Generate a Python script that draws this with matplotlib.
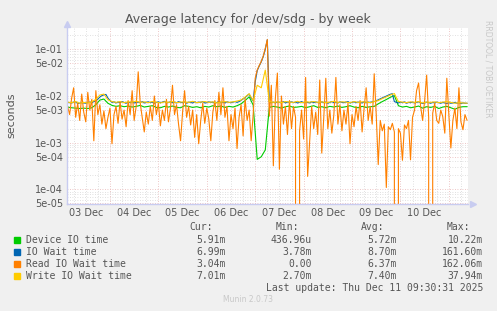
import numpy as np
import matplotlib
matplotlib.use('Agg')
import matplotlib.pyplot as plt

W, H = 497, 311

# time axis: hours since 03 Dec 00:00
t_start, t_end = 2.7, 201.5
day_labels = ['03 Dec', '04 Dec', '05 Dec', '06 Dec', '07 Dec', '08 Dec', '09 Dec', '10 Dec']
day_centers = [12, 36, 60, 84, 108, 132, 156, 180]

ytick_vals = [1e-1, 5e-2, 1e-2, 5e-3, 1e-3, 5e-4, 1e-4, 5e-5]
ytick_labels = ['1e-01', '5e-02', '1e-02', '5e-03', '1e-03', '5e-04', '1e-04', '5e-05']

# Read IO wait time (ms), one value per hour from 03:00 on 03 Dec
read_ms = [
    6.0, 4.0, 9.0, 15.0, 3.5, 7.0, 3.0, 11.0, 4.5, 2.8,
    12.0, 5.0, 8.5, 1.1, 13.0, 4.0, 6.5, 2.5, 4.8, 2.0,
    3.5, 5.5, 0.95, 4.0, 6.0, 2.6, 7.5, 3.2, 5.0, 2.2,
    8.0, 4.0, 13.0, 3.0, 6.0, 33.0, 7.0, 3.5, 1.7, 4.5,
    2.5, 6.0, 3.0, 10.0, 4.0, 7.0, 2.3, 5.0, 3.0, 8.5,
    2.8, 5.5, 17.0, 4.0, 6.5, 2.5, 1.1, 4.5, 13.0, 3.5,
    6.0, 2.4, 5.0, 1.3, 4.0, 0.95, 3.0, 7.0, 2.6, 5.5,
    3.2, 1.1, 4.5, 8.0, 3.0, 12.0, 4.0, 15.0, 3.5, 6.0,
    1.1, 4.0, 2.0, 5.5, 0.75, 3.5, 6.5, 1.4, 8.8, 3.0,
    5.0, 1.1, 4.0, 24.0, 36.0, 45.0, 55.0, 72.0, 105.0, 162.0,
    3.7, 17.0, 0.32, 9.0, 31.0, 0.27, 10.0, 2.5, 6.0, 1.5,
    8.0, 2.0, 6.0, 3.5, 0.0, 1.8, 5.0, 1.2, 25.0, 0.19,
    1.1, 6.0, 2.0, 4.5, 1.5, 22.0, 0.6, 3.5, 24.0, 2.0,
    5.0, 1.6, 4.0, 25.0, 2.5, 6.5, 1.8, 5.0, 2.5, 7.0,
    0.95, 4.0, 2.2, 6.0, 3.0, 8.0, 1.7, 5.5, 15.0, 3.0,
    6.0, 2.5, 30.0, 4.0, 0.34, 3.0, 1.8, 2.5, 0.11, 2.2,
    1.9, 2.6, 1.7, 0.0, 2.0, 1.6, 0.42, 2.4, 2.0, 3.0,
    0.43, 3.5, 5.0, 13.0, 19.0, 6.0, 3.0, 8.0, 28.0, 3.5,
    0.0, 4.3, 7.0, 3.0, 2.6, 5.0, 3.6, 1.6, 24.0, 4.0,
    0.77, 3.0, 5.5, 2.0, 15.0, 2.8, 1.9, 4.0, 3.04,
]

# IO wait time (ms), hourly, mostly hidden under read/write
iowait_ms = [
    7.3, 7.2, 7.1, 7.4, 7.5, 6.9, 7.0, 7.2, 7.1, 7.0, 7.3, 7.4, 7.2, 7.6,
    8.0, 8.6, 9.5, 10.2, 10.6, 10.8, 9.0, 8.0,
    7.3, 7.5, 7.1, 7.4, 7.2, 7.6, 7.3, 7.0, 7.4, 7.2,
    7.5, 7.1, 7.3, 7.4, 7.2, 7.6, 7.1, 7.3, 7.5, 7.2,
    7.4, 7.0, 7.3, 7.5, 7.2, 7.4, 7.7, 7.1, 7.3, 7.5,
    7.2, 7.4, 7.1, 7.6, 7.3, 7.2, 7.5, 7.0, 7.4, 7.3,
    7.1, 7.5, 7.2, 7.4, 7.3, 7.6, 7.1, 7.2, 7.5, 7.3,
    7.4, 7.0, 7.3, 7.6, 7.2, 7.4, 7.1, 7.5, 7.3, 7.2,
    7.4, 7.6, 7.3,
    7.6, 8.1, 8.7, 9.3, 10.2, 11.0, 9.0, 7.9, 20.0,
    35.0, 44.0, 54.0, 70.0, 100.0, 160.0,
    7.5, 7.2, 7.4, 7.1, 7.5, 7.3, 7.2, 7.6, 7.1, 7.4,
    7.3, 7.5, 7.2, 7.4, 7.1, 7.3, 7.6, 7.2, 7.4, 7.3,
    7.1, 7.5, 7.2, 7.4, 7.3, 7.1, 7.5, 7.2, 7.4, 7.0,
    7.3, 7.6, 7.2, 7.4, 7.1, 7.5, 7.3, 7.2, 7.4, 7.6,
    7.1, 7.3, 7.5, 7.2, 7.4, 7.3, 7.1, 7.5, 7.2, 7.4,
    7.3, 7.5,
    7.6, 7.9, 8.3, 8.7, 9.1, 9.5, 10.0, 10.4, 10.9, 11.2, 7.6,
    7.3, 7.1, 7.4, 7.2, 7.5, 7.0, 7.3, 7.2, 7.4, 7.1,
    7.3, 7.5, 7.2, 6.9, 7.1, 7.4, 7.2, 7.0, 7.3, 7.1,
    7.4, 7.2, 7.0, 7.3, 7.1, 6.9, 7.2, 7.0, 7.1, 7.3,
    7.0, 7.2, 6.9, 7.1, 7.0, 6.99,
]

# device and write series (ms), one value every two hours from 03:00 on 03 Dec
device_ms = [
    5.8, 5.6, 5.5, 5.4, 5.5, 5.4, 5.6, 6.5, 8.2, 8.6,
    7.0, 6.3, 6.0, 6.2, 5.9, 6.1, 5.8, 6.0, 6.3, 5.8,
    6.0, 6.2, 5.7, 5.6, 6.0, 5.8, 6.1, 5.7, 5.6, 6.2,
    6.0, 5.7, 5.9, 5.6, 6.0, 5.8, 6.2, 5.9, 6.1, 5.7,
    6.0, 5.8, 6.2, 6.8, 8.0, 9.6, 6.4, 0.44, 0.50, 0.70,
    5.7, 6.0, 5.8, 5.5, 5.9, 6.1, 5.7, 5.8, 6.0, 5.6,
    5.9, 6.2, 5.7, 5.9, 5.6, 6.0, 5.8, 6.1, 5.7, 5.9,
    6.2, 5.8, 5.6, 6.0, 5.7, 5.9, 6.0, 6.8, 7.6, 8.4,
    9.4, 10.2, 6.2, 5.8, 6.0, 5.6, 5.8, 6.1, 5.5, 5.9,
    5.7, 6.0, 5.4, 5.8, 6.0, 5.6, 5.2, 5.7, 5.9, 5.91,
]
write_ms = [
    7.4, 7.2, 7.6, 7.0, 7.3, 7.1, 7.5, 8.5, 10.5, 11.0,
    8.3, 7.6, 7.3, 7.6, 7.2, 7.5, 7.4, 7.8, 7.3, 7.5,
    7.2, 7.6, 7.4, 7.1, 7.5, 7.3, 7.6, 7.2, 7.4, 7.5,
    7.3, 7.7, 7.2, 7.4, 7.6, 7.3, 7.5, 7.1, 7.4, 7.6,
    7.3, 7.5, 7.8, 8.2, 9.5, 11.2, 8.0, 17.0, 15.0, 36.0,
    7.6, 7.3, 7.5, 7.2, 7.6, 7.4, 7.3, 7.7, 7.2, 7.5,
    7.4, 7.6, 7.3, 7.5, 7.2, 7.4, 7.7, 7.3, 7.5, 7.4,
    7.2, 7.6, 7.3, 7.5, 7.4, 7.2, 7.6, 8.0, 8.8, 9.6,
    10.5, 11.3, 7.6, 7.4, 7.2, 7.5, 7.3, 7.6, 7.1, 7.4,
    7.3, 7.5, 7.2, 7.4, 7.6, 7.3, 7.0, 7.2, 7.1, 7.01,
]

names = ['Device IO time', 'IO Wait time', 'Read IO Wait time', 'Write IO Wait time']
colors = ['#00cc00', '#0066b3', '#ff8000', '#ffcc00']
cur_txt = ['5.91m', '6.99m', '3.04m', '7.01m']
min_txt = ['436.96u', '3.78m', '0.00', '2.70m']
avg_txt = ['5.72m', '8.70m', '6.37m', '7.40m']
max_txt = ['10.22m', '161.60m', '162.06m', '37.94m']

txt_col = '#555555'
fig = plt.figure(figsize=(W / 100, H / 100), dpi=100, facecolor='#f0f0f0')

def fx(x):
    return x / W

def fy(y):
    return 1 - y / H

ax = fig.add_axes([fx(67), fy(204), 401 / W, 176 / H])
ax.set_facecolor('white')
ax.set_yscale('log', nonpositive='clip')
ax.set_xlim(t_start, t_end)
ax.set_ylim(4.87e-5, 0.286)

# grid (rrdtool style, dotted)
for h in range(6, 204, 6):
    if h < t_start or h > t_end:
        continue
    c = '#e8b4b4' if h % 24 == 0 else '#d6d6d6'
    ax.axvline(h, color=c, lw=0.6, ls=(0, (1, 2)), zorder=0)
for dec in [1e-5, 1e-4, 1e-3, 1e-2, 1e-1]:
    for m in range(1, 10):
        v = dec * m
        if v < 4.87e-5 or v > 0.286:
            continue
        c = '#e8b4b4' if m in (1, 5) else '#d6d6d6'
        ax.axhline(v, color=c, lw=0.6, ls=(0, (1, 2)), zorder=0)

t_read = 3 + np.arange(len(read_ms))
t_wait = 3 + np.arange(len(iowait_ms))
t_2h = 3 + 2 * np.arange(len(device_ms))
lw = 0.8
ax.plot(t_2h, np.array(device_ms) / 1000, color=colors[0], lw=lw, zorder=2)
ax.plot(t_wait, np.array(iowait_ms) / 1000, color=colors[1], lw=lw, zorder=3)
ax.plot(t_read, np.array(read_ms) / 1000, color=colors[2], lw=lw, zorder=4)
ax.plot(t_2h, np.array(write_ms) / 1000, color=colors[3], lw=lw, zorder=5)

for s in ax.spines.values():
    s.set_visible(False)
axis_col = '#c8ccf0'
ax.axvline(t_start, color=axis_col, lw=1.0, zorder=6, clip_on=False)
ax.axhline(4.87e-5, color=axis_col, lw=1.0, zorder=6, clip_on=False)
ax.plot([0], [1.02], marker='^', ms=4, color=axis_col, transform=ax.transAxes, clip_on=False)
ax.plot([1.012], [0], marker='>', ms=4, color=axis_col, transform=ax.transAxes, clip_on=False)

ax.set_yticks(ytick_vals)
ax.set_yticklabels(ytick_labels)
ax.yaxis.set_minor_locator(matplotlib.ticker.NullLocator())
ax.set_xticks(day_centers)
ax.set_xticklabels(day_labels)
ax.tick_params(axis='both', length=0, labelsize=7, labelcolor=txt_col, pad=3)

fig.text(fx(11), fy(115), 'seconds', rotation=90, ha='center', va='center', fontsize=8, color=txt_col)
fig.text(fx(248), fy(19), 'Average latency for /dev/sdg - by week', ha='center', va='center',
         fontsize=9, color=txt_col)
fig.text(fx(488), fy(20), 'RRDTOOL / TOBI OETIKER', rotation=270, ha='center', va='top',
         fontsize=5.5, color='#c8c8c8')

# legend block
mono = 'DejaVu Sans Mono'
fs = 7
for x, lab in zip([213, 299, 384, 470], ['Cur:', 'Min:', 'Avg:', 'Max:']):
    fig.text(fx(x), fy(227), lab, ha='right', va='center', family=mono, fontsize=fs, color=txt_col)
for i in range(len(names)):
    y = 240 + 12 * i
    fig.patches.append(plt.Rectangle((fx(14), fy(y + 3)), 6 / W, 6 / H, color=colors[i],
                                     transform=fig.transFigure))
    fig.text(fx(26), fy(y), names[i], ha='left', va='center', family=mono, fontsize=fs, color=txt_col)
    for x, col in zip([226, 312, 397, 483], [cur_txt, min_txt, avg_txt, max_txt]):
        fig.text(fx(x), fy(y), col[i], ha='right', va='center', family=mono, fontsize=fs, color=txt_col)
fig.text(fx(483), fy(288), 'Last update: Thu Dec 11 09:30:31 2025', ha='right', va='center',
         family=mono, fontsize=fs, color=txt_col)
fig.text(fx(248), fy(300), 'Munin 2.0.73', ha='center', va='center', fontsize=5.5, color='#c8c8c8')

fig.savefig('out.png', dpi=100, facecolor='#f0f0f0')
